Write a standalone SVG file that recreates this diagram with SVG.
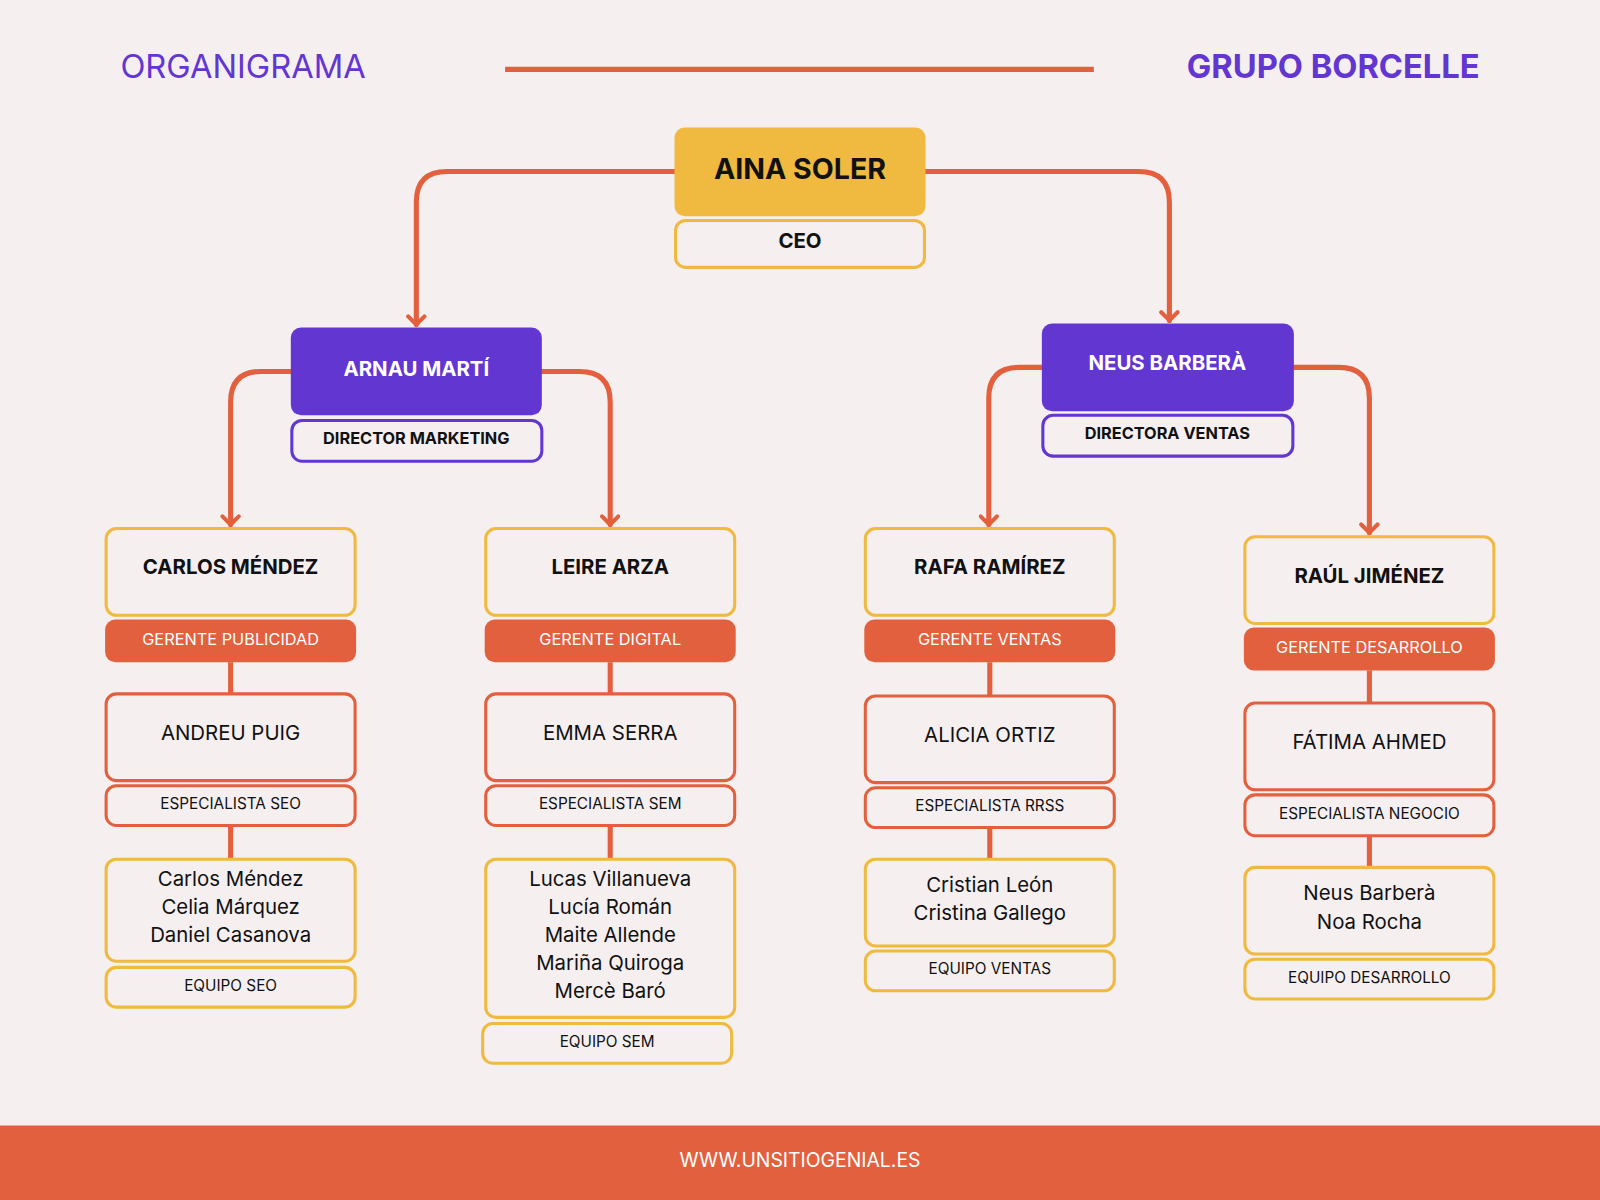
<svg xmlns="http://www.w3.org/2000/svg" width="1600" height="1200" viewBox="0 0 1600 1200">
<defs>
<marker id="ah" viewBox="0 0 20 20" refX="15" refY="10" markerWidth="20" markerHeight="20" markerUnits="userSpaceOnUse" orient="auto">
<path d="M7,2 L15,10 L7,18" fill="none" stroke="#e2603e" stroke-width="4" stroke-linecap="round" stroke-linejoin="round"/>
</marker>
<style>
text{font-family:Inter,"Liberation Sans",sans-serif;text-anchor:middle;fill:#111}
.b{font-weight:700}
.w{fill:#fff}
.y{fill:#f6eff0;stroke:#f0b93f;stroke-width:3}
.o{fill:#f6eff0;stroke:#e2603e;stroke-width:3}
.p{fill:#f6eff0;stroke:#6236d1;stroke-width:3}
.c{fill:none;stroke:#e2603e;stroke-width:5;stroke-linecap:round}
.l{stroke:#e2603e;stroke-width:5}
.n{font-size:20px}
.s{font-size:15px}
</style>
</defs>
<rect width="1600" height="1200" fill="#f6eff0"/>
<g transform="scale(1.020408)">
<rect x="0" y="1103" width="1568" height="73" fill="#e2603e"/>
<text x="784" y="1144" class="w" font-size="19">WWW.UNSITIOGENIAL.ES</text>
<text x="118" y="76" font-size="32" style="text-anchor:start;fill:#6236d1">ORGANIGRAMA</text>
<line x1="495" y1="68" x2="1072" y2="68" stroke="#e2603e" stroke-width="5"/>
<text x="1450" y="76" font-size="32" class="b" style="text-anchor:end;fill:#6236d1">GRUPO BORCELLE</text>

<g id="connectors">
<path class="c" marker-end="url(#ah)" d="M661,168 H438 Q408,168 408,198 V318"/>
<path class="c" marker-end="url(#ah)" d="M907,168 H1116 Q1146,168 1146,198 V314"/>
<path class="c" marker-end="url(#ah)" d="M285,364 H256 Q226,364 226,394 V514"/>
<path class="c" marker-end="url(#ah)" d="M531,364 H568 Q598,364 598,394 V514"/>
<path class="c" marker-end="url(#ah)" d="M1021,360 H999 Q969,360 969,390 V514"/>
<path class="c" marker-end="url(#ah)" d="M1268,360 H1312 Q1342,360 1342,390 V522"/>
<line class="l" x1="226" y1="649" x2="226" y2="680"/><line class="l" x1="226" y1="809" x2="226" y2="842"/>
<line class="l" x1="598" y1="649" x2="598" y2="680"/><line class="l" x1="598" y1="809" x2="598" y2="842"/>
<line class="l" x1="970" y1="649" x2="970" y2="682"/><line class="l" x1="970" y1="811" x2="970" y2="842"/>
<line class="l" x1="1342" y1="657" x2="1342" y2="689"/><line class="l" x1="1342" y1="819" x2="1342" y2="850"/>
</g>

<g id="ceo">
<rect x="661" y="125" width="246" height="87" rx="10" fill="#f0b93f"/>
<text x="784" y="175" class="b" font-size="28">AINA SOLER</text>
<rect x="662" y="216" width="244" height="46" rx="10" class="y"/>
<text x="784" y="243" class="b n">CEO</text>
</g>
<g id="arnau">
<rect x="285" y="321" width="246" height="86" rx="10" fill="#6236d1"/>
<text x="408" y="368" class="b n w">ARNAU MARTÍ</text>
<rect x="286" y="412" width="245" height="40" rx="10" class="p"/>
<text x="408" y="435" class="b" font-size="16">DIRECTOR MARKETING</text>
</g>
<g id="neus">
<rect x="1021" y="317" width="247" height="86" rx="10" fill="#6236d1"/>
<text x="1144" y="363" class="b n w">NEUS BARBERÀ</text>
<rect x="1022" y="407" width="245" height="40" rx="10" class="p"/>
<text x="1144" y="430" class="b" font-size="16">DIRECTORA VENTAS</text>
</g>

<g id="carlos">
<rect x="104" y="518" width="244" height="85" rx="10" class="y"/>
<text x="226" y="563" class="b n">CARLOS MÉNDEZ</text>
<rect x="103" y="607" width="246" height="42" rx="10" fill="#e2603e"/>
<text x="226" y="632" class="w" font-size="16">GERENTE PUBLICIDAD</text>
</g>
<g id="andreu">
<rect x="104" y="680" width="244" height="85" rx="10" class="o"/>
<text x="226" y="725" class="n">ANDREU PUIG</text>
<rect x="104" y="770" width="244" height="39" rx="10" class="o"/>
<text x="226" y="793" class="s">ESPECIALISTA SEO</text>
</g>
<g id="equipo-seo">
<rect x="104" y="842" width="244" height="100" rx="10" class="y"/>
<text x="226" y="868" class="n">Carlos Méndez</text>
<text x="226" y="896" class="n">Celia Márquez</text>
<text x="226" y="923" class="n">Daniel Casanova</text>
<rect x="104" y="948" width="244" height="39" rx="10" class="y"/>
<text x="226" y="971" class="s">EQUIPO SEO</text>
</g>

<g id="leire">
<rect x="476" y="518" width="244" height="85" rx="10" class="y"/>
<text x="598" y="563" class="b n">LEIRE ARZA</text>
<rect x="475" y="607" width="246" height="42" rx="10" fill="#e2603e"/>
<text x="598" y="632" class="w" font-size="16">GERENTE DIGITAL</text>
</g>
<g id="emma">
<rect x="476" y="680" width="244" height="85" rx="10" class="o"/>
<text x="598" y="725" class="n">EMMA SERRA</text>
<rect x="476" y="770" width="244" height="39" rx="10" class="o"/>
<text x="598" y="793" class="s">ESPECIALISTA SEM</text>
</g>
<g id="equipo-sem">
<rect x="476" y="842" width="244" height="155" rx="10" class="y"/>
<text x="598" y="868" class="n">Lucas Villanueva</text>
<text x="598" y="896" class="n">Lucía Román</text>
<text x="598" y="923" class="n">Maite Allende</text>
<text x="598" y="951" class="n">Mariña Quiroga</text>
<text x="598" y="978" class="n">Mercè Baró</text>
<rect x="473" y="1003" width="244" height="39" rx="10" class="y"/>
<text x="595" y="1026" class="s">EQUIPO SEM</text>
</g>

<g id="rafa">
<rect x="848" y="518" width="244" height="85" rx="10" class="y"/>
<text x="970" y="563" class="b n">RAFA RAMÍREZ</text>
<rect x="847" y="607" width="246" height="42" rx="10" fill="#e2603e"/>
<text x="970" y="632" class="w" font-size="16">GERENTE VENTAS</text>
</g>
<g id="alicia">
<rect x="848" y="682" width="244" height="85" rx="10" class="o"/>
<text x="970" y="727" class="n">ALICIA ORTIZ</text>
<rect x="848" y="772" width="244" height="39" rx="10" class="o"/>
<text x="970" y="795" class="s">ESPECIALISTA RRSS</text>
</g>
<g id="equipo-ventas">
<rect x="848" y="842" width="244" height="85" rx="10" class="y"/>
<text x="970" y="874" class="n">Cristian León</text>
<text x="970" y="902" class="n">Cristina Gallego</text>
<rect x="848" y="932" width="244" height="39" rx="10" class="y"/>
<text x="970" y="955" class="s">EQUIPO VENTAS</text>
</g>

<g id="raul">
<rect x="1220" y="526" width="244" height="85" rx="10" class="y"/>
<text x="1342" y="571" class="b n">RAÚL JIMÉNEZ</text>
<rect x="1219" y="615" width="246" height="42" rx="10" fill="#e2603e"/>
<text x="1342" y="640" class="w" font-size="16">GERENTE DESARROLLO</text>
</g>
<g id="fatima">
<rect x="1220" y="689" width="244" height="85" rx="10" class="o"/>
<text x="1342" y="734" class="n">FÁTIMA AHMED</text>
<rect x="1220" y="779" width="244" height="40" rx="10" class="o"/>
<text x="1342" y="803" class="s">ESPECIALISTA NEGOCIO</text>
</g>
<g id="equipo-desarrollo">
<rect x="1220" y="850" width="244" height="85" rx="10" class="y"/>
<text x="1342" y="882" class="n">Neus Barberà</text>
<text x="1342" y="910" class="n">Noa Rocha</text>
<rect x="1220" y="940" width="244" height="39" rx="10" class="y"/>
<text x="1342" y="963" class="s">EQUIPO DESARROLLO</text>
</g>
</g>
</svg>
